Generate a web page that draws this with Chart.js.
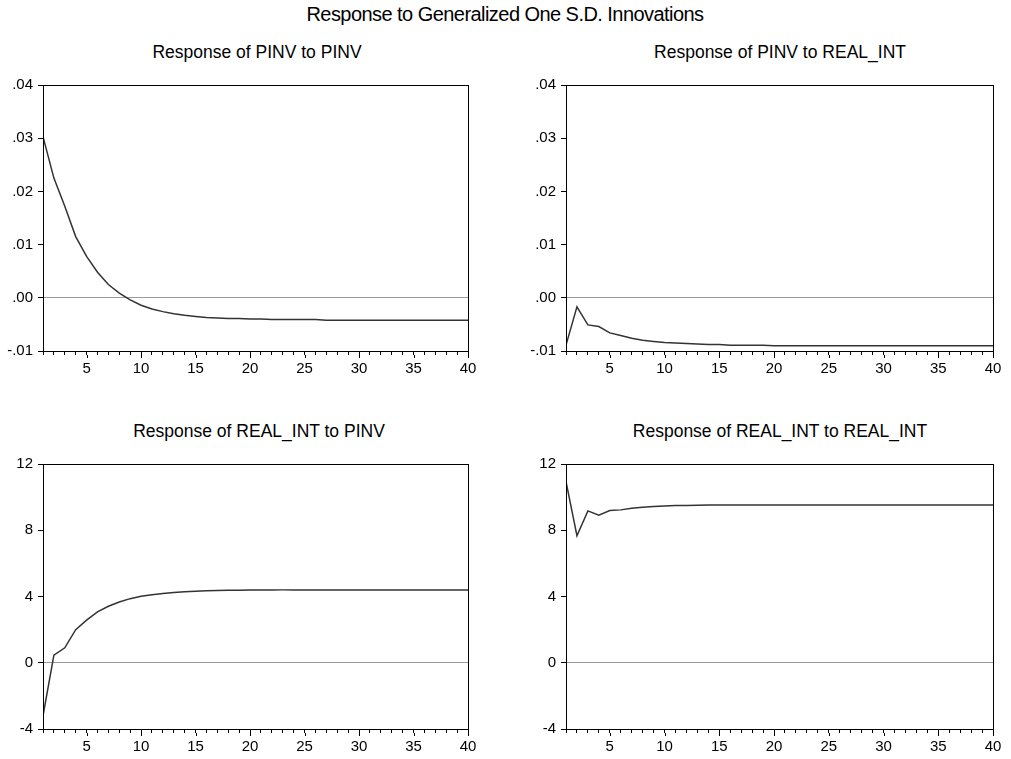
<!DOCTYPE html>
<html>
<head>
<meta charset="utf-8">
<script src="https://cdn.jsdelivr.net/npm/chart.js@4.4.1/dist/chart.umd.min.js"></script>
<style>
  body { margin: 0; background: #fff; font-family: "Liberation Sans", Arial, sans-serif; }
  #wrap { position: relative; width: 1011px; height: 759px; overflow: hidden; }
  .ttl { position: absolute; transform: translateX(-50%); white-space: nowrap; color: #000; }
  .main { font-size: 20px; letter-spacing: -0.55px; top: 3px; left: 505px; }
  .sub { font-size: 17.5px; }
  canvas { position: absolute; }
</style>
</head>
<body>
<div id="wrap">
  <div class="ttl main">Response to Generalized One S.D. Innovations</div>
  <div class="ttl sub" style="left:257px; top:42px;">Response of PINV to PINV</div>
  <div class="ttl sub" style="left:780px; top:42px;">Response of PINV to REAL_INT</div>
  <div class="ttl sub" style="left:259px; top:421px;">Response of REAL_INT to PINV</div>
  <div class="ttl sub" style="left:780px; top:421px;">Response of REAL_INT to REAL_INT</div>
  <canvas id="c1" style="left:0px; top:75px;" width="490" height="310"></canvas>
  <canvas id="c2" style="left:523px; top:75px;" width="492" height="310"></canvas>
  <canvas id="c3" style="left:0px; top:454px;" width="490" height="309"></canvas>
  <canvas id="c4" style="left:523px; top:454px;" width="492" height="309"></canvas>
</div>
<script>
// ========== DADOS ==========
const periodos = [1,2,3,4,5,6,7,8,9,10,11,12,13,14,15,16,17,18,19,20,
                  21,22,23,24,25,26,27,28,29,30,31,32,33,34,35,36,37,38,39,40];

const pinvPinv = [0.0303,0.0225,0.0172,0.0115,0.0078,0.0048,0.0025,0.0009,-0.0004,-0.0014,
                  -0.0021,-0.0026,-0.0030,-0.0033,-0.0035,-0.0037,-0.0038,-0.0039,-0.0039,-0.0040,
                  -0.0040,-0.0041,-0.0041,-0.0041,-0.0041,-0.0041,-0.0042,-0.0042,-0.0042,-0.0042,
                  -0.0042,-0.0042,-0.0042,-0.0042,-0.0042,-0.0042,-0.0042,-0.0042,-0.0042,-0.0042];

const pinvReal = [-0.0089,-0.0017,-0.0051,-0.0054,-0.0066,-0.0071,-0.0076,-0.0080,-0.0082,-0.0084,
                  -0.0085,-0.0086,-0.0087,-0.0088,-0.0088,-0.0089,-0.0089,-0.0089,-0.0089,-0.0090,
                  -0.0090,-0.0090,-0.0090,-0.0090,-0.0090,-0.0090,-0.0090,-0.0090,-0.0090,-0.0090,
                  -0.0090,-0.0090,-0.0090,-0.0090,-0.0090,-0.0090,-0.0090,-0.0090,-0.0090,-0.0090];

const realPinv = [-3.2,0.46,0.9,2.0,2.57,3.07,3.41,3.67,3.87,4.01,
                  4.10,4.18,4.24,4.28,4.32,4.34,4.36,4.37,4.38,4.39,
                  4.39,4.39,4.40,4.40,4.40,4.40,4.40,4.40,4.40,4.40,
                  4.40,4.40,4.40,4.40,4.40,4.40,4.40,4.40,4.40,4.40];

const realReal = [10.94,7.67,9.17,8.91,9.19,9.23,9.33,9.39,9.43,9.47,
                  9.49,9.50,9.51,9.52,9.52,9.53,9.53,9.53,9.53,9.53,
                  9.53,9.53,9.53,9.53,9.53,9.53,9.53,9.53,9.53,9.53,
                  9.53,9.53,9.53,9.53,9.53,9.53,9.53,9.53,9.53,9.53];

const ticksPinv = [-0.01, 0.00, 0.01, 0.02, 0.03, 0.04];
const ticksReal = [-4, 0, 4, 8, 12];

// ========== PLUGIN: moldura e ticks maiores ==========
const moldura = {
    id: 'moldura',
    afterDraw(chart) {
        const { ctx, chartArea: a, scales } = chart;
        ctx.save();
        ctx.strokeStyle = '#000';
        ctx.lineWidth = 1;
        ctx.strokeRect(Math.round(a.left) + 0.5, Math.round(a.top) + 0.5,
                       Math.round(a.right - a.left), Math.round(a.bottom - a.top));
        // ticks maiores a cada 5 períodos
        ctx.beginPath();
        scales.x.ticks.forEach(t => {
            if (t.value % 5 === 0) {
                const px = Math.round(scales.x.getPixelForValue(t.value)) + 0.5;
                ctx.moveTo(px, a.bottom + 4);
                ctx.lineTo(px, a.bottom + 7);
            }
        });
        ctx.stroke();
        ctx.restore();
    }
};

function formatarPinv(v) {
    return v.toFixed(2).replace('0.', '.');
}

function criarGrafico(id, valores, ticksY, formato) {
    const ctx = document.getElementById(id).getContext('2d');
    return new Chart(ctx, {
        type: 'line',
        data: {
            datasets: [{
                data: periodos.map((p, i) => ({ x: p, y: valores[i] })),
                borderColor: '#333',
                borderWidth: 1.5,
                pointRadius: 0,
                tension: 0,
                fill: false
            }]
        },
        options: {
            responsive: false,
            animation: false,
            layout: { padding: { top: 10, right: 22, bottom: 4, left: 0 } },
            plugins: { legend: { display: false }, tooltip: { enabled: false } },
            scales: {
                x: {
                    type: 'linear',
                    min: 1, max: 40,
                    afterFit: s => { s.height = 30; s.paddingLeft = 0; s.paddingRight = 0; },
                    afterBuildTicks: s => { s.ticks = periodos.map(p => ({ value: p })); },
                    border: { color: '#000', width: 1 },
                    grid: { drawOnChartArea: false, tickLength: 4, tickColor: '#000', color: '#000' },
                    ticks: {
                        autoSkip: false, maxRotation: 0, padding: 5,
                        color: '#000',
                        font: { family: 'Liberation Sans', size: 15 },
                        callback: v => (v % 5 === 0 ? String(v) : '')
                    }
                },
                y: {
                    min: ticksY[0], max: ticksY[ticksY.length - 1],
                    afterFit: s => { s.width = 43; s.paddingTop = 0; s.paddingBottom = 0; },
                    afterBuildTicks: s => { s.ticks = ticksY.map(v => ({ value: v })); },
                    border: { color: '#000', width: 1 },
                    grid: {
                        tickLength: 5,
                        tickColor: '#000',
                        color: c => (c.tick && c.tick.value === 0 ? '#9a9a9a' : 'rgba(0,0,0,0)'),
                        lineWidth: 1
                    },
                    ticks: {
                        padding: 5,
                        color: '#000',
                        font: { family: 'Liberation Sans', size: 15 },
                        callback: formato
                    }
                }
            }
        },
        plugins: [moldura]
    });
}

document.addEventListener('DOMContentLoaded', function() {
    criarGrafico('c1', pinvPinv, ticksPinv, formatarPinv);
    criarGrafico('c2', pinvReal, ticksPinv, formatarPinv);
    criarGrafico('c3', realPinv, ticksReal, v => String(v));
    criarGrafico('c4', realReal, ticksReal, v => String(v));
});
</script>
</body>
</html>
